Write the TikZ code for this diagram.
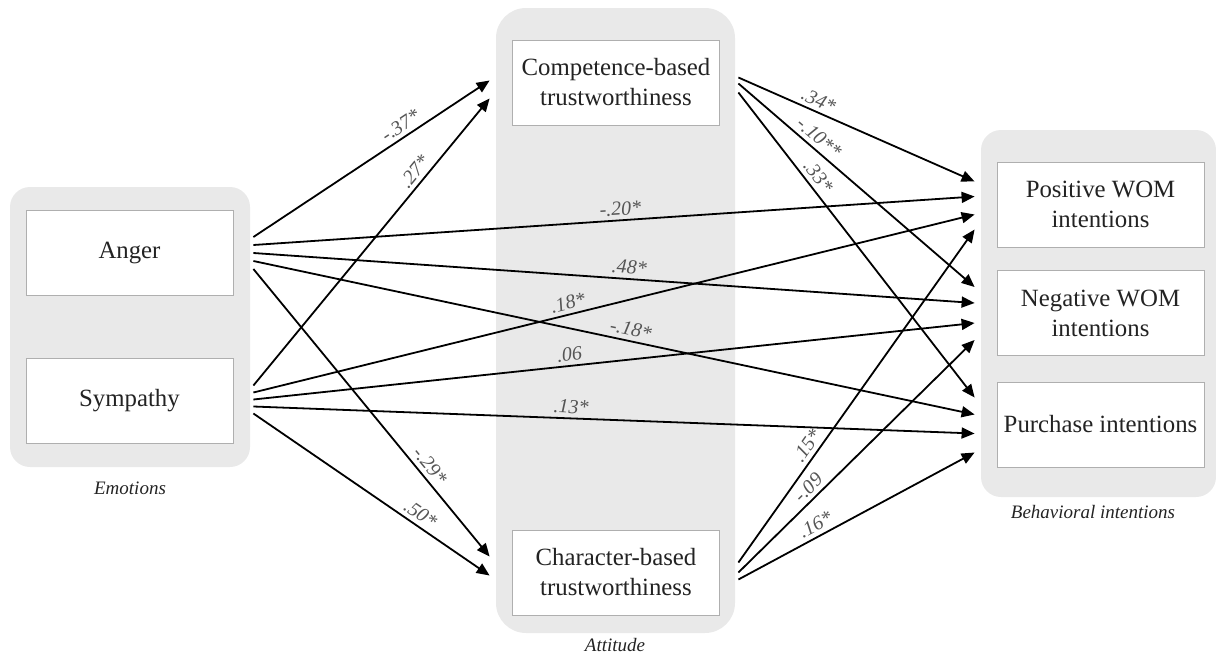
\documentclass[tikz,border=0pt]{standalone}
\usepackage{fontspec}
\setmainfont{Liberation Serif}
\usetikzlibrary{arrows.meta,calc}
\definecolor{grpgray}{RGB}{233,233,233}
\definecolor{boxline}{RGB}{175,175,175}
\definecolor{coefgray}{RGB}{85,85,85}
\definecolor{txtdark}{RGB}{35,35,35}

\begin{document}
\begin{tikzpicture}[x=0.5pt,y=-0.5pt,
  grp/.style={fill=grpgray,draw=none,rounded corners=10pt,inner sep=0pt},
  varbox/.style={draw=boxline,fill=white,line width=0.5pt,minimum width=103.5pt,
    minimum height=42.5pt,align=center,inner sep=0pt,text=txtdark,
    font=\fontsize{12.4}{15}\selectfont},
  grplab/.style={font=\fontsize{9.5}{11}\selectfont\itshape,text=txtdark},
  effect/.style={line width=0.9pt,-{Triangle[length=6.5pt,width=5.5pt]}},
  coef/.style={sloped,above,font=\fontsize{10}{12}\selectfont\itshape,
    text=coefgray,inner sep=2pt}]
\useasboundingbox (0,0) rectangle (1216,659);

% grey groups
\node[grp,minimum width=120pt,minimum height=140pt] (emo) at (130,327) {};
\node[grp,rounded corners=15pt,minimum width=119.5pt,minimum height=312.5pt] (att) at (615.5,320.5) {};
\node[grp,minimum width=117.5pt,minimum height=183.5pt] (bi) at (1098.5,313.5) {};

% variables
\node[varbox] (anger) at (129.5,253) {Anger};
\node[varbox] (symp) at (129.5,400.5) {Sympathy};
\node[varbox] (comp) at (616,82.5) {Competence-based\\trustworthiness};
\node[varbox] (char) at (616,572.5) {Character-based\\trustworthiness};
\node[varbox] (pos) at (1100.5,204.5) {Positive WOM\\intentions};
\node[varbox] (neg) at (1100.5,313) {Negative WOM\\intentions};
\node[varbox] (pur) at (1100.5,424.5) {Purchase intentions};

\node[grplab] (emolab) at (130,488) {Emotions};
\node[grplab] (attlab) at (615,645) {Attitude};
\node[grplab] (bilab) at (1093,512) {Behavioral intentions};

% ports
\foreach \i/\dy in {1/-16,2/-8,3/0,4/8,5/16}
  \coordinate (ang\i) at ($(anger.east -| emo.east)+(3,\dy)$);
\foreach \i/\dy in {1/-15,2/-8,3/-1,4/6,5/13}
  \coordinate (sym\i) at ($(symp.east -| emo.east)+(3,\dy)$);
\coordinate (cin1) at ($(comp.west -| att.west)+(-6,-2)$);
\coordinate (cin2) at ($(comp.west -| att.west)+(-6,16)$);
\coordinate (chin1) at ($(char.west -| att.west)+(-6,-16)$);
\coordinate (chin2) at ($(char.west -| att.west)+(-6,3)$);
\foreach \i/\dy in {1/-5,2/1,3/10}
  \coordinate (cout\i) at ($(comp.east -| att.east)+(3,\dy)$);
\foreach \i/\dy in {1/-10,2/0,3/7}
  \coordinate (chout\i) at ($(char.east -| att.east)+(3,\dy)$);
\foreach \b/\da/\db/\dc/\dd in {pos/-23/-8/10/25,neg/-26/-10/10/27,pur/-27/-10/9/28}
  \foreach \i/\dy in {1/\da,2/\db,3/\dc,4/\dd}
    \coordinate (\b\i) at ($(\b.west -| bi.west)+(-6,\dy)$);

% paths
\foreach \s/\e/\p/\t in {
    ang1/cin1/.65/{-.37*}, sym1/cin2/.72/{.27*},
    ang5/chin1/.71/{-.29*}, sym5/chin2/.68/{.50*},
    ang2/pos2/.51/{-.20*}, ang3/neg2/.52/{.48*}, ang4/pur2/.52/{-.18*},
    sym2/pos3/.44/{.18*}, sym3/neg3/.44/{.06}, sym4/pur3/.44/{.13*},
    cout1/pos1/.32/{.34*}, cout2/neg1/.31/{-.10**}, cout3/pur1/.30/{.33*},
    chout1/pos4/.33/{.15*}, chout2/neg4/.33/{-.09}, chout3/pur4/.35/{.16*}}
  \draw[effect] (\s) -- node[coef,pos=\p] {\t} (\e);
\end{tikzpicture}
\end{document}
